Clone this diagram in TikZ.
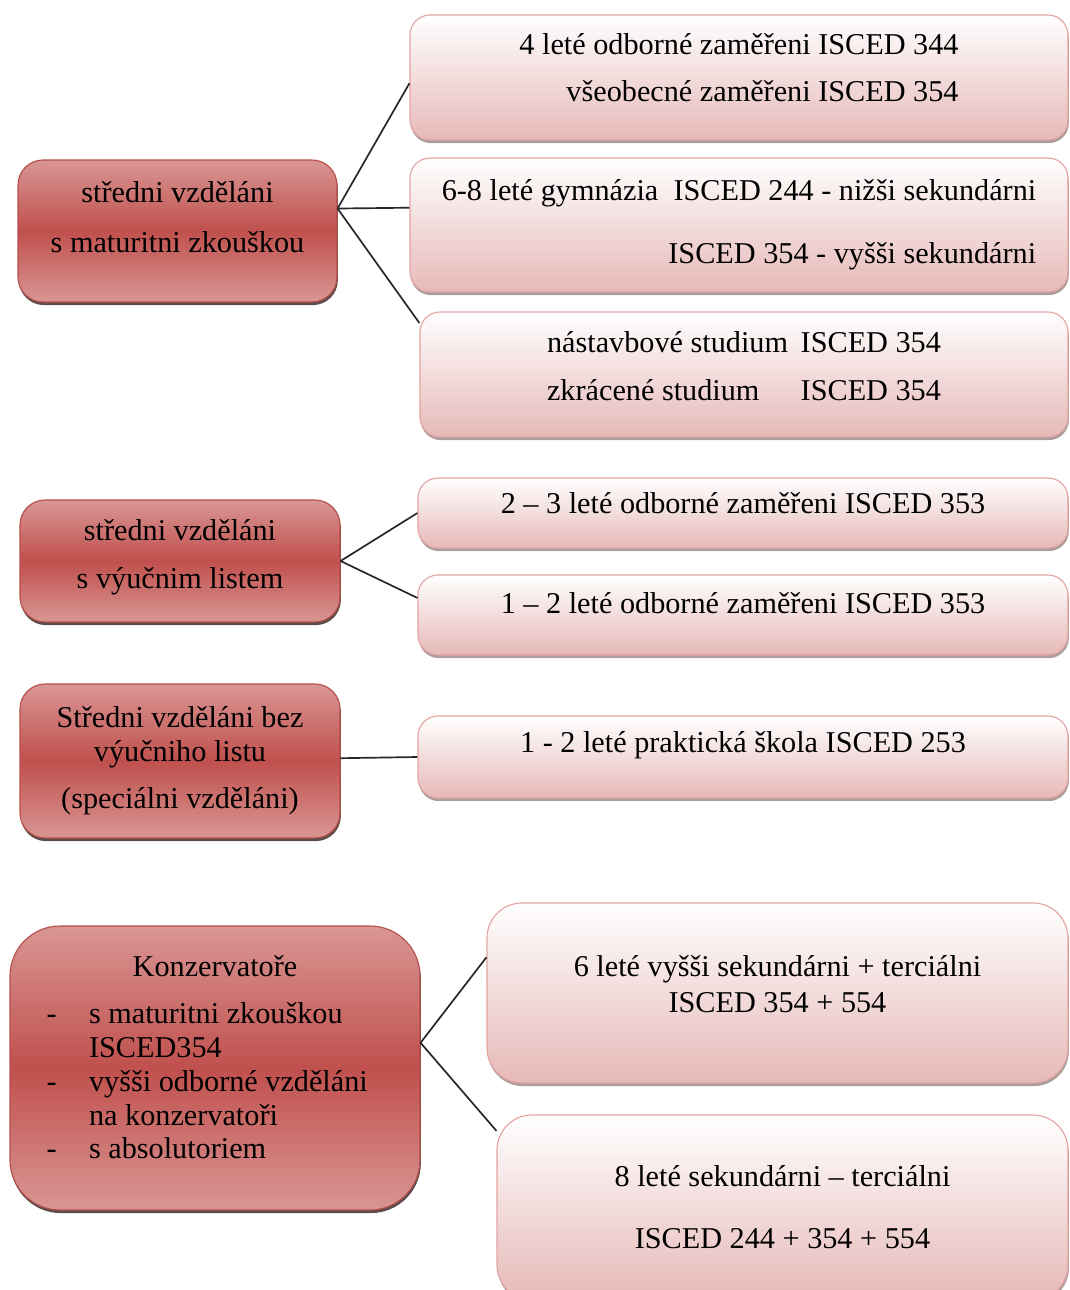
\documentclass[tikz,border=0pt]{standalone}
\usepackage{fontspec}
\setmainfont{Liberation Serif}
\usepackage{xcolor}
\usepackage{tikz}
\usetikzlibrary{shadows}

\definecolor{schooldark}{HTML}{C0504D}
\definecolor{schoollight}{HTML}{D99694}
\definecolor{schoolline}{HTML}{B54E4B}
\definecolor{trackpink}{HTML}{E6B9B8}
\definecolor{trackline}{HTML}{E3A3A2}

\newdimen\px
\px=0.025cm

\tikzset{
  school/.style={rectangle, rounded corners=25*\px, draw=schoolline, line width=0.8pt,
    top color=schoollight, bottom color=schoollight, middle color=schooldark,
    drop shadow={shadow xshift=0.6pt, shadow yshift=-2.2pt, fill=black!80!schooldark, opacity=.75},
    align=center, inner sep=0pt},
  track/.style={rectangle, rounded corners=20*\px, draw=trackline, line width=0.8pt,
    top color=white, bottom color=trackpink,
    drop shadow={shadow xshift=0.6pt, shadow yshift=-2.2pt, fill=black!50!trackpink, opacity=.6},
    align=center, inner sep=0pt}
}

\begin{document}
\begin{tikzpicture}[x=0.025cm, y=-0.025cm, line width=1.2pt,
  font=\fontsize{21.5pt}{24pt}\selectfont]
 \useasboundingbox (0,0) rectangle (1070,1290);
 % left column
 \node[school, text depth=20pt, minimum width=319*\px, minimum height=142*\px] (s1) at (177.5,231)
   {středni vzděláni\\[11.5pt]s maturitni zkouškou};
 \node[school, text depth=10.4pt, minimum width=320*\px, minimum height=122*\px] (s2) at (180,561)
   {středni vzděláni\\[10pt]s výučnim listem};
 \node[school, minimum width=320*\px, minimum height=154*\px] (s3) at (180,761)
   {Středni vzděláni bez\\výučniho listu\\[9.5pt](speciálni vzděláni)};
 \node[school, text depth=111.8pt, rounded corners=50*\px, minimum width=410*\px, minimum height=284*\px] (s4) at (215,1068)
   {Konzervatoře\\[10pt]
    \begin{tabular}[t]{@{}l@{\hspace{23pt}}l@{}}
     - & s maturitni zkouškou\\
       & ISCED354\\
     - & vyšši odborné vzděláni\\
       & na konzervatoři\\
     - & s absolutoriem
    \end{tabular}\hspace*{11pt}};
 % right column
 \node[track, align=right, text depth=14.2pt, minimum width=658*\px, minimum height=125*\px] (p1) at (739,77.5)
   {4 leté odborné zaměřeni ISCED 344\\[10pt]všeobecné zaměřeni ISCED 354};
 \node[track, align=right, minimum width=658*\px, minimum height=134*\px] (p2) at (739,225)
   {6-8 leté gymnázia\ \ ISCED 244 - nižši sekundárni\\[21pt]ISCED 354 - vyšši sekundárni};
 \node[track, text depth=14.4pt, minimum width=648*\px, minimum height=125*\px] (p3) at (744,374.5)
   {\begin{tabular}[b]{@{}l@{\hspace{9pt}}l@{}}
     nástavbové studium & ISCED 354\\[10pt]
     zkrácené studium & ISCED 354
    \end{tabular}};
 \node[track, text depth=14.2pt, minimum width=650*\px, minimum height=70*\px] (p4) at (743,513)
   {2 – 3 leté odborné zaměřeni ISCED 353};
 \node[track, text depth=17pt, minimum width=650*\px, minimum height=80*\px] (p5) at (743,615)
   {1 – 2 leté odborné zaměřeni ISCED 353};
 \node[track, text depth=21.7pt, minimum width=650*\px, minimum height=82*\px] (p6) at (743,757)
   {1 - 2 leté praktická škola ISCED 253};
 \node[track, text depth=12.8pt, rounded corners=35*\px, minimum width=581*\px, minimum height=180*\px] (p7) at (777.5,993)
   {6 leté vyšši sekundárni + terciálni\\[1.6pt]ISCED 354 + 554};
 \node[track, rounded corners=35*\px, minimum width=571*\px, minimum height=185*\px] (p8) at (782.5,1207.5)
   {8 leté sekundárni – terciálni\\[20pt]ISCED 244 + 354 + 554};
 % connectors
 \path[draw=black!85] (s1.8)
   edge (p1.181)
   edge (p2.177)
   edge (p3.171);
 \path[draw=black!85] (s2.east)
   edge (p4.west)
   edge (p5.177);
 \path[draw=black!85] (s3.1.4)
   edge (p6.west);
 \path[draw=black!85] (s4.7)
   edge (p7.173)
   edge (p8.165);
\end{tikzpicture}
\end{document}
